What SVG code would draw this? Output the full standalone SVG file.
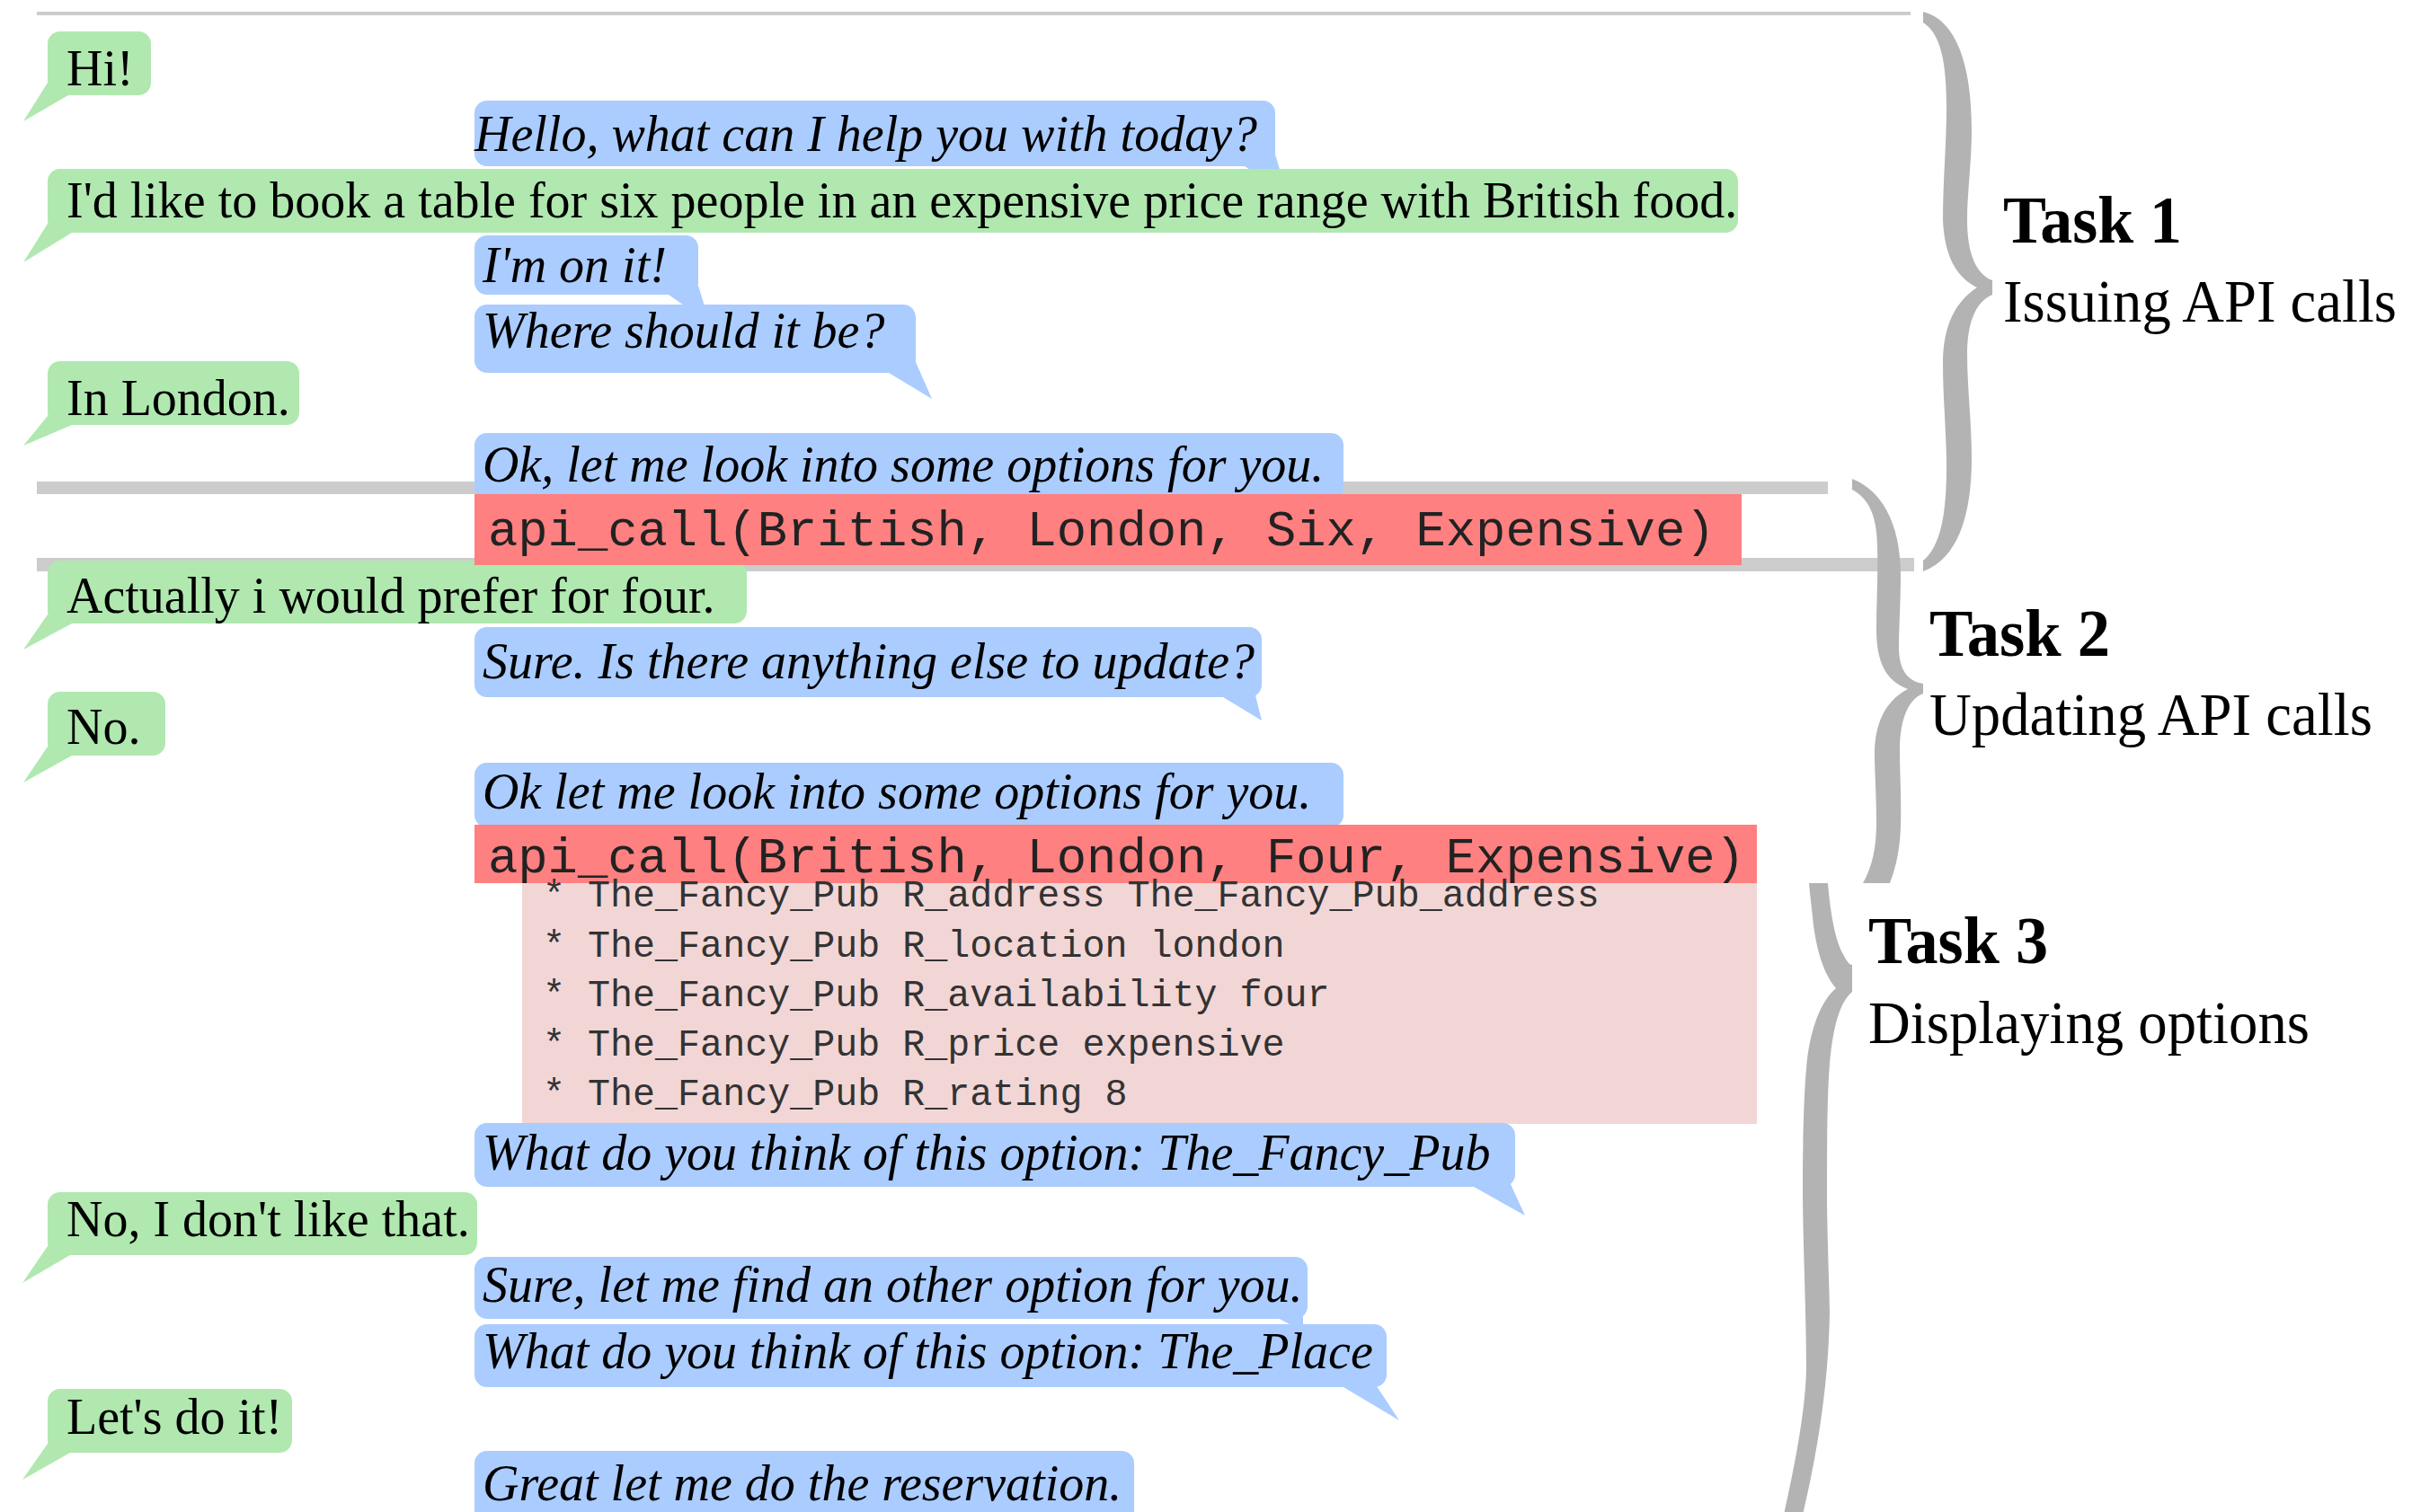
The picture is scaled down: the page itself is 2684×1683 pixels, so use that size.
<svg xmlns="http://www.w3.org/2000/svg" width="2684" height="1683" viewBox="0 0 2684 1683">
<style>
.bg{fill:#ffffff}
.sep{fill:#cccccc}
.brace{fill:#b3b3b3}
.user{fill:#b0e8b0}
.bot{fill:#aaccff}
.api{fill:#ff8080}
.res{fill:#f2d6d6}
.tu{font-family:"Liberation Serif","Times New Roman",serif;font-size:56px;fill:#000}
.tb{font-family:"Liberation Serif","Times New Roman",serif;font-size:56px;font-style:italic;fill:#000}
.ta{font-family:"Liberation Mono","Courier New",monospace;font-size:55.5px;fill:#222}
.tr{font-family:"Liberation Mono","Courier New",monospace;font-size:41.7px;fill:#333}
.tt{font-family:"Liberation Serif","Times New Roman",serif;font-size:75px;font-weight:bold;fill:#000}
.ts{font-family:"Liberation Serif","Times New Roman",serif;font-size:68px;fill:#000}
</style>
<rect class="bg" x="0" y="0" width="2684" height="1683"/>

<g id="separators">
<rect class="sep" x="41" y="13" width="2085" height="4"/>
<rect class="sep" x="41" y="536" width="1993" height="14"/>
<rect class="sep" x="41" y="621" width="2089" height="15"/>
</g>

<g id="u1"><rect class="user" x="53" y="35" width="115" height="71" rx="14"/><polygon class="user" points="53,92 26,135 76,106"/><text class="tu" x="74" y="95">Hi!</text></g>
<g id="b1"><polygon class="bot" points="1385,185 1432,215 1419,172"/><rect class="bot" x="528" y="112" width="891" height="73" rx="14"/><text class="tb" x="528" y="168">Hello, what can I help you with today?</text></g>
<g id="u2"><rect class="user" x="53" y="188" width="1881" height="71" rx="14"/><polygon class="user" points="53,249 26,292 80,259"/><text class="tu" x="74" y="242">I'd like to book a table for six people in an expensive price range with British food.</text></g>
<g id="b2"><polygon class="bot" points="744,328 790,360 777,318"/><rect class="bot" x="528" y="262" width="249" height="66" rx="14"/><text class="tb" x="537" y="314">I'm on it!</text></g>
<g id="b3"><polygon class="bot" points="989,415 1037,444 1019,403"/><rect class="bot" x="528" y="339" width="491" height="76" rx="14"/><text class="tb" x="537" y="387">Where should it be?</text></g>
<g id="u3"><rect class="user" x="53" y="402" width="280" height="71" rx="14"/><polygon class="user" points="53,463 26,496 80,473"/><text class="tu" x="74" y="462">In London.</text></g>
<g id="b4"><rect class="bot" x="528" y="482" width="967" height="74" rx="14"/><text class="tb" x="537" y="536">Ok, let me look into some options for you.</text></g>
<g id="u4"><rect class="user" x="53" y="624" width="778" height="70" rx="14"/><polygon class="user" points="53,684 26,723 80,694"/><text class="tu" x="74" y="682">Actually i would prefer for four.</text></g>
<g id="api1"><rect class="api" x="528" y="550" width="1410" height="79"/><text class="ta" x="543" y="607">api_call(British, London, Six, Expensive)</text></g>
<g id="b5"><polygon class="bot" points="1361,776 1404,802 1396,770"/><rect class="bot" x="528" y="698" width="876" height="78" rx="14"/><text class="tb" x="537" y="755">Sure. Is there anything else to update?</text></g>
<g id="u5"><rect class="user" x="53" y="770" width="131" height="71" rx="14"/><polygon class="user" points="53,831 26,871 80,841"/><text class="tu" x="74" y="828">No.</text></g>
<g id="b6"><rect class="bot" x="528" y="849" width="967" height="72" rx="14"/><text class="tb" x="537" y="900">Ok let me look into some options for you.</text></g>
<g id="api2"><rect class="api" x="528" y="918" width="1427" height="65"/><text class="ta" x="543" y="971">api_call(British, London, Four, Expensive)</text></g>
<g id="results"><rect class="res" x="581" y="983" width="1374" height="268"/>
<text class="tr" x="604" y="1009">* The_Fancy_Pub R_address The_Fancy_Pub_address</text>
<text class="tr" x="604" y="1065">* The_Fancy_Pub R_location london</text>
<text class="tr" x="604" y="1120">* The_Fancy_Pub R_availability four</text>
<text class="tr" x="604" y="1175">* The_Fancy_Pub R_price expensive</text>
<text class="tr" x="604" y="1230">* The_Fancy_Pub R_rating 8</text></g>
<g id="b7"><polygon class="bot" points="1640,1321 1697,1353 1680,1316"/><rect class="bot" x="528" y="1250" width="1158" height="71" rx="14"/><text class="tb" x="537" y="1302">What do you think of this option: The_Fancy_Pub</text></g>
<g id="u6"><rect class="user" x="53" y="1327" width="478" height="70" rx="14"/><polygon class="user" points="53,1387 25,1428 78,1397"/><text class="tu" x="74" y="1376">No, I don't like that.</text></g>
<g id="b8"><polygon class="bot" points="1420,1466 1450,1482 1450,1460"/><rect class="bot" x="528" y="1399" width="927" height="69" rx="14"/><text class="tb" x="537" y="1449">Sure, let me find an other option for you.</text></g>
<g id="b9"><polygon class="bot" points="1495,1544 1557,1581 1530,1540"/><rect class="bot" x="528" y="1474" width="1015" height="70" rx="14"/><text class="tb" x="537" y="1523">What do you think of this option: The_Place</text></g>
<g id="u7"><rect class="user" x="53" y="1546" width="272" height="71" rx="14"/><polygon class="user" points="53,1607 25,1647 78,1617"/><text class="tu" x="74" y="1596">Let's do it!</text></g>
<g id="b10"><rect class="bot" x="528" y="1615" width="734" height="90" rx="14"/><text class="tb" x="537" y="1670">Great let me do the reservation.</text></g>

<g id="braces">
<path class="brace" d="M2140,13 C2176,22 2194,70 2194,145 C2194,180 2189,215 2189,245 C2189,280 2198,305 2217,312 L2217,328 C2198,336 2189,360 2189,395 C2189,430 2194,470 2194,510 C2194,575 2178,622 2140,636 L2140,624 C2160,608 2166,570 2166,520 C2166,480 2162,445 2162,405 C2162,362 2176,336 2200,320 C2180,310 2164,290 2162,245 C2162,200 2166,160 2166,120 C2166,70 2160,38 2140,25 Z"/>
<path class="brace" d="M2061,533 C2092,545 2115,580 2115,640 C2115,670 2113,700 2113,720 C2113,745 2122,758 2140,761 L2140,772 C2124,778 2114,800 2114,835 C2114,860 2116,890 2115,920 C2114,950 2108,970 2103,983 L2073,983 C2083,965 2088,945 2088,915 C2088,880 2086,860 2086,840 C2086,805 2098,780 2123,767 C2100,758 2088,740 2088,700 C2088,670 2090,640 2089,610 C2089,575 2080,555 2061,545 Z"/>
<path class="brace" d="M2034,983 C2037,1020 2043,1050 2052,1064 C2055,1070 2058,1074 2061,1074 L2061,1104 C2048,1115 2040,1140 2036,1184 C2033,1220 2033,1280 2033,1340 C2034,1400 2036,1440 2036,1460 C2035,1540 2022,1620 2005,1690 L1984,1690 C2000,1620 2010,1560 2010,1520 C2010,1460 2006,1380 2006,1320 C2006,1260 2008,1210 2010,1190 C2013,1150 2025,1115 2043,1100 C2030,1085 2022,1060 2018,1030 C2016,1010 2014,995 2013,983 Z"/>
</g>

<g id="task1"><text class="tt" x="2229" y="270" textLength="199" lengthAdjust="spacingAndGlyphs">Task 1</text><text class="ts" x="2229" y="358" textLength="438" lengthAdjust="spacingAndGlyphs">Issuing API calls</text></g>
<g id="task2"><text class="tt" x="2147" y="730" textLength="201" lengthAdjust="spacingAndGlyphs">Task 2</text><text class="ts" x="2147" y="818" textLength="493" lengthAdjust="spacingAndGlyphs">Updating API calls</text></g>
<g id="task3"><text class="tt" x="2079" y="1072" textLength="200" lengthAdjust="spacingAndGlyphs">Task 3</text><text class="ts" x="2079" y="1161" textLength="491" lengthAdjust="spacingAndGlyphs">Displaying options</text></g>
</svg>
